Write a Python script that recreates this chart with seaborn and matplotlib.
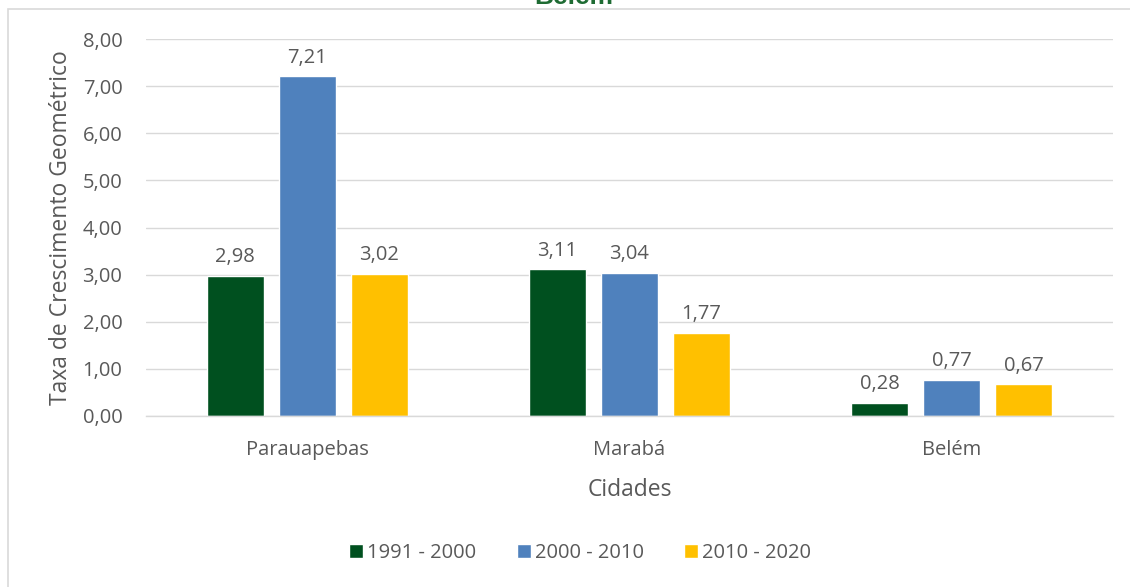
import matplotlib
matplotlib.use("Agg")
import matplotlib.pyplot as plt
from matplotlib.patches import Rectangle
import seaborn as sns
import pandas as pd

# Growth rates per city and period
cidades = ["Parauapebas", "Marabá", "Belém"]
periodos = ["1991 - 2000", "2000 - 2010", "2010 - 2020"]
taxa_1991_2000 = [2.98, 3.11, 0.28]
taxa_2000_2010 = [7.21, 3.04, 0.77]
taxa_2010_2020 = [3.02, 1.77, 0.67]
cores = ["#00501F", "#4F81BD", "#FFC000"]
yticks = [0, 1, 2, 3, 4, 5, 6, 7, 8]

series = [taxa_1991_2000, taxa_2000_2010, taxa_2010_2020]
df = pd.DataFrame(
    [(c, p, v) for p, vals in zip(periodos, series) for c, v in zip(cidades, vals)],
    columns=["Cidade", "Periodo", "Taxa"],
)

sns.set_theme(style="white")
plt.rcParams["font.family"] = ["Open Sans", "DejaVu Sans"]
txt = "#595959"
fs = 14.5

fig = plt.figure(figsize=(11.3, 5.87), dpi=100)
ax = fig.add_axes([146 / 1130, 1 - 416 / 587, (1113 - 146) / 1130, (416 - 39) / 587])

sns.barplot(
    data=df, x="Cidade", y="Taxa", hue="Periodo",
    order=cidades, hue_order=periodos, palette=cores,
    width=0.67, gap=0.21, saturation=1, ax=ax, legend=True,
)

for cont in ax.containers:
    vals = [b.get_height() for b in cont]
    ax.bar_label(cont, labels=[f"{v:.2f}".replace(".", ",") for v in vals],
                 padding=6, fontsize=fs, color=txt)

ax.set_xlim(-0.5, 2.5)
ax.set_ylim(0, 8)
ax.set_yticks(yticks)
ax.set_yticklabels([f"{v:.2f}".replace(".", ",") for v in yticks])
ax.yaxis.grid(True, color="#D9D9D9", linewidth=1)
ax.set_axisbelow(True)
for s in ["top", "right", "left"]:
    ax.spines[s].set_visible(False)
ax.spines["bottom"].set_color("#D9D9D9")
ax.spines["bottom"].set_linewidth(1)
ax.tick_params(axis="y", length=0, labelsize=fs, colors=txt, pad=17)
ax.tick_params(axis="x", length=0, labelsize=fs, colors=txt, pad=17)
ax.set_xlabel("Cidades", fontsize=16.5, color=txt, labelpad=13)
ax.set_ylabel("Taxa de Crescimento Geométrico", fontsize=16.5, color=txt, labelpad=7)

handles, labels = ax.get_legend_handles_labels()
ax.legend(handles, labels, loc="center", bbox_to_anchor=(580 / 1130, 1 - 553 / 587),
          bbox_transform=fig.transFigure, ncol=3, frameon=False, fontsize=fs,
          handlelength=0.7, handleheight=0.7, handletextpad=0.2, columnspacing=2.0,
          labelcolor=txt)

# Chart title, partly above the frame
fig.text(574 / 1130, 1 - 4 / 587, "Belém", ha="center", va="baseline",
         fontsize=19, fontweight="bold", color="#1E6B33", family="Liberation Sans")

# Outer chart frame
fig.patches.append(Rectangle((8 / 1130, -0.1), 1.2, 1 - 9 / 587 + 0.1,
                             transform=fig.transFigure, fill=False,
                             edgecolor="#D9D9D9", linewidth=1.2))

fig.savefig("out.png", dpi=100)
